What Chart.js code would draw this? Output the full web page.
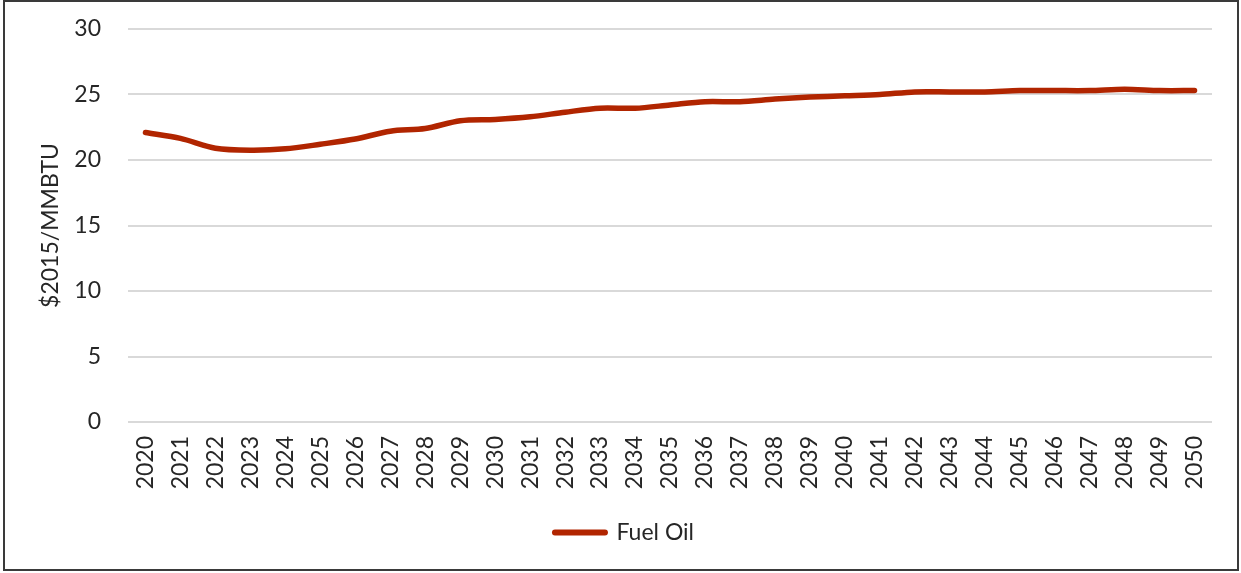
<!DOCTYPE html>
<html>
<head>
<meta charset="utf-8">
<script src="https://cdn.jsdelivr.net/npm/chart.js@4/dist/chart.umd.min.js"></script>
<style>
  html, body { margin: 0; padding: 0; background: #fff; }
  #wrap { position: relative; width: 1241px; height: 573px; }
  #frame { position: absolute; left: 3px; top: 0px; width: 1232px; height: 567px; border: 2px solid #3a3a3a; pointer-events: none; }
  canvas { position: absolute; left: 0; top: 0; }
</style>
</head>
<body>
<div id="wrap">
  <canvas id="c" width="1241" height="573"></canvas>
  <div id="frame"></div>
</div>
<script>
const years = ['2020','2021','2022','2023','2024','2025','2026','2027','2028','2029','2030',
  '2031','2032','2033','2034','2035','2036','2037','2038','2039','2040',
  '2041','2042','2043','2044','2045','2046','2047','2048','2049','2050'];
const fuelOil = [22.1, 21.65, 20.9, 20.75, 20.85, 21.2, 21.6, 22.2, 22.4, 23.0, 23.1,
  23.3, 23.65, 23.95, 23.95, 24.2, 24.45, 24.45, 24.65, 24.8, 24.9,
  25.0, 25.2, 25.2, 25.2, 25.3, 25.3, 25.3, 25.4, 25.3, 25.3];
const yTicks = [0, 5, 10, 15, 20, 25, 30];
const seriesName = 'Fuel Oil';
const yTitle = '$2015/MMBTU';

const FONT = 'Lato, "Open Sans", sans-serif';
const RED = '#b12500';

new Chart(document.getElementById('c'), {
  type: 'line',
  data: {
    labels: years,
    datasets: [{
      label: seriesName,
      data: fuelOil,
      borderColor: RED,
      backgroundColor: RED,
      borderWidth: 5.5,
      pointRadius: 0,
      pointHoverRadius: 0,
      tension: 0.3,
      borderCapStyle: 'round',
      borderJoinStyle: 'round',
      fill: false
    }]
  },
  options: {
    responsive: false,
    animation: false,
    events: [],
    layout: { padding: { left: 37, right: 29, top: 29, bottom: 19 } },
    plugins: {
      tooltip: { enabled: false },
      legend: {
        position: 'bottom',
        labels: {
          usePointStyle: true,
          pointStyle: 'line',
          pointStyleWidth: 50,
          boxHeight: 23,
          padding: 8,
          color: '#262626',
          font: { family: FONT, size: 23 },
          generateLabels(chart) {
            return chart.data.datasets.map((ds, i) => ({
              text: ds.label,
              fillStyle: ds.borderColor,
              strokeStyle: ds.borderColor,
              lineWidth: 6,
              lineCap: 'round',
              pointStyle: 'line',
              fontColor: '#262626',
              datasetIndex: i,
              hidden: false
            }));
          }
        }
      }
    },
    scales: {
      x: {
        offset: true,
        grid: { display: false, drawTicks: false },
        border: { display: false },
        ticks: {
          color: '#262626',
          font: { family: FONT, size: 23 },
          maxRotation: 90,
          minRotation: 90,
          autoSkip: false,
          padding: 14
        },
        afterFit(scale) { scale.height = 91; scale.paddingLeft = 0; scale.paddingRight = 0; }
      },
      y: {
        min: 0,
        max: 30,
        afterBuildTicks(scale) { scale.ticks = yTicks.map(v => ({ value: v })); },
        grid: { color: '#d9d9d9', lineWidth: 2, drawTicks: false },
        border: { display: false },
        ticks: {
          color: '#262626',
          font: { family: FONT, size: 23 },
          padding: 27
        },
        title: {
          display: true,
          text: yTitle,
          color: '#262626',
          font: { family: FONT, size: 23 },
          padding: { top: 0, bottom: 0 }
        },
        afterFit(scale) { scale.width = 91; scale.paddingTop = 0; scale.paddingBottom = 0; }
      }
    }
  }
});
</script>
</body>
</html>
